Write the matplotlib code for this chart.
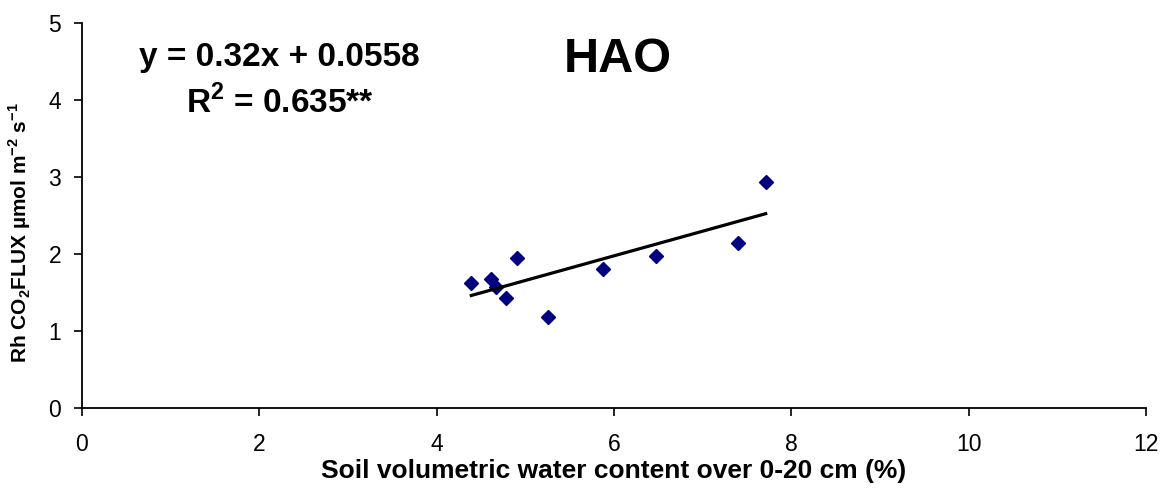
import matplotlib
matplotlib.use("Agg")
import matplotlib.pyplot as plt
import numpy as np

plt.rcParams['font.family'] = ['Liberation Sans', 'DejaVu Sans']
plt.rcParams['mathtext.fontset'] = 'custom'
plt.rcParams['mathtext.rm'] = 'Liberation Sans'
plt.rcParams['mathtext.bf'] = 'Liberation Sans:bold'

swc = [4.39, 4.61, 4.67, 4.78, 4.90, 5.25, 5.87, 6.47, 7.40, 7.71]
rh_flux = [1.62, 1.68, 1.57, 1.43, 1.95, 1.18, 1.81, 1.97, 2.14, 2.94]
slope, intercept = 0.32, 0.0558
x_ticks = [0, 2, 4, 6, 8, 10, 12]
y_ticks = [0, 1, 2, 3, 4, 5]

fig = plt.figure(figsize=(11.63, 4.88), dpi=100)
ax = fig.add_axes([0.0705, 0.164, 0.915, 0.789])

ax.plot(swc, rh_flux, linestyle='none', marker='D', color='#000080', markersize=7.5)
xl = np.array([min(swc), max(swc)])
ax.plot(xl, slope * xl + intercept, color='black', linewidth=2.3)

ax.set_xlim(0, 12)
ax.set_ylim(0, 5)
ax.set_xticks(x_ticks)
ax.set_yticks(y_ticks)
ax.tick_params(axis='both', labelsize=16.5, direction='out', length=6, width=1.2)
ax.tick_params(axis='x', pad=12)
ax.tick_params(axis='y', pad=9)
for s in ['top', 'right']:
    ax.spines[s].set_visible(False)
for s in ['left', 'bottom']:
    ax.spines[s].set_linewidth(1.3)

ax.set_xlabel('Soil volumetric water content over 0-20 cm (%)', fontsize=19, fontweight='bold', labelpad=2)
ax.set_ylabel(r'Rh CO$_\mathbf{2}$FLUX µmol m$^{\mathbf{-2}}$ s$^{\mathbf{-1}}$', fontsize=15, fontweight='bold', labelpad=4)
ax.yaxis.set_label_coords(-0.046, 0.455)

ax.text(2.23, 4.55, 'y = 0.32x + 0.0558', fontsize=24, fontweight='bold', ha='center', va='center')
ax.text(2.23, 3.97, r'R$^{\mathbf{2}}$ = 0.635**', fontsize=24, fontweight='bold', ha='center', va='center')
ax.text(6.04, 4.52, 'HAO', fontsize=35, fontweight='bold', ha='center', va='center')

fig.savefig('out.png', dpi=100)
